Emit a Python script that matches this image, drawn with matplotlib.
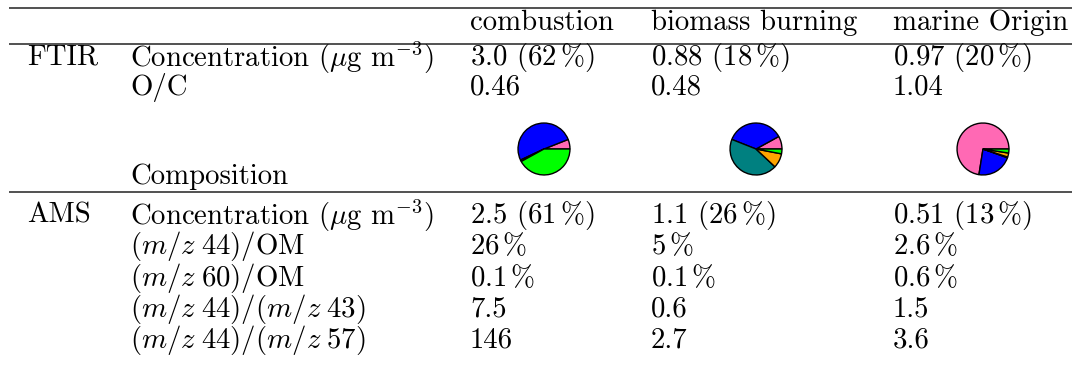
import matplotlib
matplotlib.use("Agg")
import matplotlib.pyplot as plt

plt.rcParams['font.family'] = 'serif'
plt.rcParams['font.serif'] = ['cmr10']
plt.rcParams['mathtext.fontset'] = 'cm'
plt.rcParams['axes.formatter.use_mathtext'] = True

# factor columns
factors = ['combustion', 'biomass burning', 'marine Origin']

# FTIR block
ftir_conc = ['3.0', '0.88', '0.97']
ftir_share = ['62', '18', '20']
ftir_oc = ['0.46', '0.48', '1.04']

# functional group fractions per factor (percent)
groups = ['hydroxyl', 'alkane', 'carbonyl', 'amine', 'carboxylic acid']
group_colors = ['#ff69b4', '#0000ff', '#008080', '#ffa500', '#00ff00']
composition = [
    [6, 51, 1, 0, 42],
    [8, 36, 44, 9, 3],
    [72.5, 22, 0.5, 2.5, 2.5],
]

# AMS block
ams_conc = ['2.5', '1.1', '0.51']
ams_share = ['61', '26', '13']
mz44_om = ['26', '5', '2.6']
mz60_om = ['0.1', '0.1', '0.6']
mz44_43 = ['7.5', '0.6', '1.5']
mz44_57 = ['146', '2.7', '3.6']

W, H = 1072, 368
FS = 20.7
fig = plt.figure(figsize=(W / 100, H / 100), dpi=100)
ax = fig.add_axes([0, 0, 1, 1])
ax.set_xlim(0, W)
ax.set_ylim(H, 0)
ax.axis('off')

col_x = [470, 651, 893]
x_block, x_label = 27, 130

# booktabs-style rules
for y in (8, 44, 192):
    ax.hlines(y, 9, W, color='#222222', lw=1.1)


def put(x, y, s):
    ax.text(x, y, s, fontsize=FS, va='center', ha='left')


for x, name in zip(col_x, factors):
    put(x, 23, name)

conc_label = r'Concentration ($\mu$g m$^{-3}$)'

put(x_block, 57, 'FTIR')
put(x_label, 57, conc_label)
put(x_label, 87, 'O/C')
put(x_label, 177, 'Composition')
for i, x in enumerate(col_x):
    put(x, 57, ftir_conc[i] + r' (' + ftir_share[i] + r'$\,$%)')
    put(x, 87, ftir_oc[i])

put(x_block, 215, 'AMS')
put(x_label, 215, conc_label)
put(x_label, 246, r'$(m/z\;44)/\mathrm{OM}$')
put(x_label, 278, r'$(m/z\;60)/\mathrm{OM}$')
put(x_label, 309, r'$(m/z\;44)/(m/z\;43)$')
put(x_label, 340, r'$(m/z\;44)/(m/z\;57)$')
for i, x in enumerate(col_x):
    put(x, 215, ams_conc[i] + r' (' + ams_share[i] + r'$\,$%)')
    put(x, 246, mz44_om[i] + r'$\,$%')
    put(x, 278, mz60_om[i] + r'$\,$%')
    put(x, 309, mz44_43[i])
    put(x, 340, mz44_57[i])

# composition pies
pie_cx = [544, 756, 983]
pie_cy, r = 149, 27
for cx, fr in zip(pie_cx, composition):
    pax = fig.add_axes([(cx - r) / W, 1 - (pie_cy + r) / H, 2 * r / W, 2 * r / H])
    pax.pie(fr, colors=group_colors, startangle=0, counterclock=True,
            wedgeprops=dict(edgecolor='black', linewidth=1.0))
    pax.set_xlim(-1.04, 1.04)
    pax.set_ylim(-1.04, 1.04)
    pax.set_aspect('equal')
    pax.axis('off')

fig.savefig('out.png', dpi=100)
